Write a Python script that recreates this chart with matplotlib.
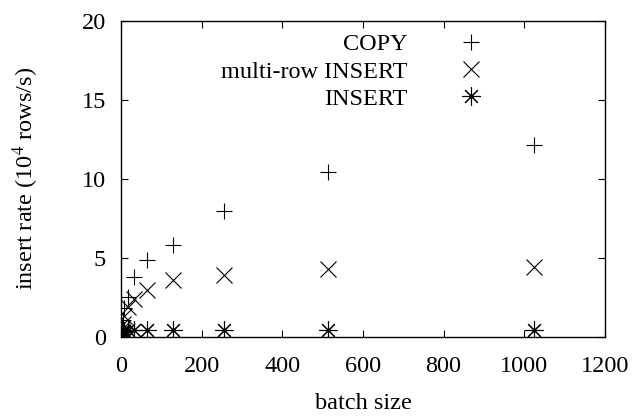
import matplotlib.pyplot as plt

# batch sizes and insert rates (10^4 rows/s)
batch = [1, 2, 4, 8, 16, 32, 64, 128, 256, 512, 1024]
copy_rate = [0.3, 0.6, 1.1, 1.8, 2.5, 3.8, 4.85, 5.8, 8.0, 10.45, 12.15]
multi_rate = [0.3, 0.5, 0.8, 1.3, 1.9, 2.4, 3.0, 3.6, 3.95, 4.3, 4.45]
single_rate = [0.2, 0.3, 0.35, 0.4, 0.42, 0.43, 0.44, 0.45, 0.45, 0.45, 0.44]

plt.rcParams['font.family'] = ['Liberation Serif', 'DejaVu Serif']
plt.rcParams['mathtext.fontset'] = 'stix'

fig = plt.figure(figsize=(6.38, 4.17), dpi=100)
ax = fig.add_axes([0.19, 0.192, 0.758, 0.758])

ax.plot(batch, copy_rate, linestyle='none', marker='+', markersize=12,
        markeredgewidth=0.8, color='black', label='COPY')
ax.plot(batch, multi_rate, linestyle='none', marker='x', markersize=11,
        markeredgewidth=0.8, color='black', label='multi-row INSERT')
ax.plot(batch, single_rate, linestyle='none', marker=(8, 2, 0), markersize=13,
        markeredgewidth=0.8, color='black', label='INSERT')

ax.set_xlim(0, 1200)
ax.set_ylim(0, 20)
ax.set_xticks(range(0, 1201, 200))
ax.set_yticks(range(0, 21, 5))
ax.tick_params(direction='in', length=5, width=0.8, top=True, right=True,
               labelsize=17.5)
ax.tick_params(axis='x', pad=14)
ax.tick_params(axis='y', pad=11)
for s in ax.spines.values():
    s.set_linewidth(1.0)

ax.set_xlabel('batch size', fontsize=17.5, labelpad=11)
ax.set_ylabel('insert rate (10$^4$ rows/s)', fontsize=17.5, labelpad=29)

leg = ax.legend(loc='upper right', bbox_to_anchor=(0.798, 1.03), frameon=False,
                markerfirst=False, fontsize=17.5, handlelength=1.2,
                handletextpad=2.0, labelspacing=0.22)
for t in leg.get_texts():
    t.set_ha('right')

fig.savefig('out.png', dpi=100)
